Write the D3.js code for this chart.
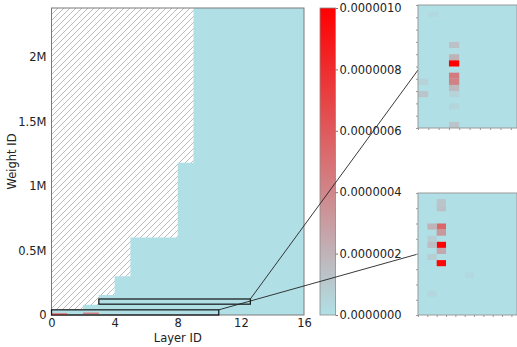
<!DOCTYPE html>
<html>
<head>
<meta charset="utf-8">
<script src="https://cdn.jsdelivr.net/npm/d3@7"></script>
<style>
  body { margin: 0; background: #fff; }
  svg { display: block; font-family: "DejaVu Sans", sans-serif; }
</style>
</head>
<body>
<svg id="chart" width="517" height="347"></svg>
<script>
// ---- data ----
const layerIds = d3.range(16);
// number of weights in each layer
const layerSizes = [40000, 45000, 80000, 155000, 300000, 600000, 600000, 600000,
                    1180000, 2380000, 2380000, 2380000, 2380000, 2380000, 2380000, 2380000];
const weightMax = 2380000;
const xTicks = [0, 4, 8, 12, 16];
const yTicks = [0, 500000, 1000000, 1500000, 2000000];
const yTickLabels = ["0", "0.5M", "1M", "1.5M", "2M"];
const colorTicks = [0, 2e-7, 4e-7, 6e-7, 8e-7, 1e-6];

// heat cells visible at full scale: layer, weight range, value
const mainCells = [
  { layer: 0, w0: 6000, w1: 12000, v: 1.0e-6 },
  { layer: 2, w0: 12000, w1: 18000, v: 0.9e-6 }
];

// zoomed regions (layer range, weight range)
const zoomUpper = { x0: 3, x1: 12.6, w0: 84000, w1: 124000 };
const zoomLower = { x0: 0, x1: 10.6, w0: 0, w1: 40000 };

// cells inside the upper zoom
const upperCells = [
  { layer: 4, w0: 120000, w1: 122000, v: 0.03e-6 },
  { layer: 6, w0: 110000, w1: 112000, v: 0.14e-6 },
  { layer: 6, w0: 106000, w1: 108000, v: 0.2e-6 },
  { layer: 6, w0: 104000, w1: 106000, v: 1.0e-6 },
  { layer: 6, w0: 100000, w1: 102000, v: 0.45e-6 },
  { layer: 6, w0: 98000, w1: 100000, v: 0.42e-6 },
  { layer: 6, w0: 96000, w1: 98000, v: 0.17e-6 },
  { layer: 6, w0: 94000, w1: 96000, v: 0.06e-6 },
  { layer: 6, w0: 90000, w1: 92000, v: 0.05e-6 },
  { layer: 6, w0: 84000, w1: 86000, v: 0.12e-6 },
  { layer: 3, w0: 98000, w1: 100000, v: 0.06e-6 },
  { layer: 3, w0: 94000, w1: 96000, v: 0.12e-6 }
];

// cells inside the lower zoom
const lowerCells = [
  { layer: 2, w0: 36000, w1: 38000, v: 0.12e-6 },
  { layer: 2, w0: 34000, w1: 36000, v: 0.14e-6 },
  { layer: 2, w0: 28000, w1: 30000, v: 0.55e-6 },
  { layer: 2, w0: 26000, w1: 28000, v: 0.32e-6 },
  { layer: 2, w0: 22000, w1: 24000, v: 1.0e-6 },
  { layer: 2, w0: 20000, w1: 22000, v: 0.25e-6 },
  { layer: 2, w0: 16000, w1: 18000, v: 0.97e-6 },
  { layer: 1, w0: 28000, w1: 30000, v: 0.2e-6 },
  { layer: 1, w0: 24000, w1: 26000, v: 0.08e-6 },
  { layer: 1, w0: 22000, w1: 24000, v: 0.15e-6 },
  { layer: 1, w0: 18000, w1: 20000, v: 0.08e-6 },
  { layer: 1, w0: 6000, w1: 8000, v: 0.04e-6 },
  { layer: 5, w0: 12000, w1: 14000, v: 0.03e-6 }
];

// ---- layout ----
const svg = d3.select("#chart");
const plot = { left: 51.5, right: 304, top: 8, bottom: 315 };
const cbar = { left: 320, right: 335.5, top: 8, bottom: 315 };
const insetUpper = { left: 418, right: 517, top: 5, bottom: 128 };
const insetLower = { left: 418, right: 517, top: 193, bottom: 315 };
const upperAnchor = [418, 70];
const lowerAnchor = [418, 254];
const fontSize = 11.5;

const color = d3.scaleLinear().domain([0, 1e-6]).range(["#b0e0e6", "#ff0000"])
  .interpolate(d3.interpolateRgb).clamp(true);
const base = color(0);

const x = d3.scaleLinear().domain([0, 16]).range([plot.left, plot.right]);
const y = d3.scaleLinear().domain([0, weightMax]).range([plot.bottom, plot.top]);

const defs = svg.append("defs");
const hatch = defs.append("pattern").attr("id", "hatch")
  .attr("patternUnits", "userSpaceOnUse").attr("width", 6).attr("height", 6);
hatch.append("rect").attr("width", 6).attr("height", 6).attr("fill", "#fff");
hatch.append("path").attr("d", "M-1,1 l2,-2 M0,6 l6,-6 M5,7 l2,-2")
  .attr("stroke", "#a6a6a6").attr("stroke-width", 0.75);

// ---- main panel ----
svg.append("rect")
  .attr("x", plot.left).attr("y", plot.top)
  .attr("width", plot.right - plot.left).attr("height", plot.bottom - plot.top)
  .attr("fill", "url(#hatch)");

const stepData = layerIds.map(i => ({ l: i, s: layerSizes[i] }));
stepData.push({ l: 16, s: layerSizes[15] });
const area = d3.area().curve(d3.curveStepAfter)
  .x(d => x(d.l)).y0(y(0)).y1(d => y(d.s));
svg.append("path").datum(stepData).attr("d", area).attr("fill", base);

svg.append("rect")
  .attr("x", plot.left).attr("y", plot.top)
  .attr("width", plot.right - plot.left).attr("height", plot.bottom - plot.top)
  .attr("fill", "none").attr("stroke", "#7a7a7a").attr("stroke-width", 1);

// axes
const xAxis = svg.append("g").attr("transform", `translate(0,${plot.bottom})`)
  .call(d3.axisBottom(x).tickValues(xTicks).tickSize(0).tickPadding(4));
const yAxis = svg.append("g").attr("transform", `translate(${plot.left},0)`)
  .call(d3.axisLeft(y).tickValues(yTicks).tickFormat((d, i) => yTickLabels[i]).tickSize(0).tickPadding(5));
[xAxis, yAxis].forEach(g => {
  g.select(".domain").remove();
  g.selectAll("text").attr("font-size", fontSize).attr("fill", "#222")
    .attr("font-family", "DejaVu Sans, sans-serif");
});

svg.append("text").attr("x", (plot.left + plot.right) / 2).attr("y", 341.5)
  .attr("text-anchor", "middle").attr("font-size", fontSize).attr("fill", "#222").text("Layer ID");
svg.append("text")
  .attr("transform", `translate(15.5,${(plot.top + plot.bottom) / 2}) rotate(-90)`)
  .attr("text-anchor", "middle").attr("font-size", fontSize).attr("fill", "#222").text("Weight ID");

// zoom rectangles
function zoomRect(z) {
  svg.append("rect")
    .attr("x", x(z.x0)).attr("y", y(z.w1))
    .attr("width", x(z.x1) - x(z.x0)).attr("height", y(z.w0) - y(z.w1))
    .attr("fill", "none").attr("stroke", "#111").attr("stroke-width", 1.2);
}
zoomRect(zoomUpper);
zoomRect(zoomLower);

svg.append("g").selectAll("rect").data(mainCells).join("rect")
  .attr("x", d => x(d.layer)).attr("width", d => x(d.layer + 1) - x(d.layer))
  .attr("y", d => y(d.w1)).attr("height", d => Math.max(1, y(d.w0) - y(d.w1)))
  .attr("fill", d => color(d.v)).attr("opacity", 0.7);

// ---- colorbar ----
const cy = d3.scaleLinear().domain([0, 1e-6]).range([cbar.bottom, cbar.top]);
const grad = defs.append("linearGradient").attr("id", "cgrad")
  .attr("x1", 0).attr("y1", 1).attr("x2", 0).attr("y2", 0);
d3.range(0, 1.0001, 0.1).forEach(t => {
  grad.append("stop").attr("offset", t).attr("stop-color", color(t * 1e-6));
});
svg.append("rect").attr("x", cbar.left).attr("y", cbar.top)
  .attr("width", cbar.right - cbar.left).attr("height", cbar.bottom - cbar.top)
  .attr("fill", "url(#cgrad)").attr("stroke", "#8a8a8a").attr("stroke-width", 0.8);
const cAxis = svg.append("g").attr("transform", `translate(${cbar.right},0)`)
  .call(d3.axisRight(cy).tickValues(colorTicks).tickFormat(d => d.toFixed(7)).tickSize(2.5).tickPadding(1.5));
cAxis.select(".domain").remove();
cAxis.selectAll("line").attr("stroke", "#777");
cAxis.selectAll("text").attr("font-size", fontSize).attr("fill", "#222")
  .attr("font-family", "DejaVu Sans, sans-serif");

// ---- connectors ----
svg.append("line")
  .attr("x1", x(zoomUpper.x1)).attr("y1", y(zoomUpper.w1))
  .attr("x2", upperAnchor[0]).attr("y2", upperAnchor[1])
  .attr("stroke", "#222").attr("stroke-width", 0.9);
svg.append("line")
  .attr("x1", x(zoomLower.x1)).attr("y1", y(zoomLower.w1))
  .attr("x2", lowerAnchor[0]).attr("y2", lowerAnchor[1])
  .attr("stroke", "#222").attr("stroke-width", 0.9);

// ---- insets ----
function drawInset(box, z, cells, yStep) {
  const ix = d3.scaleLinear().domain([z.x0, z.x1]).range([box.left, box.right]);
  const iy = d3.scaleLinear().domain([z.w0, z.w1]).range([box.bottom, box.top]);
  const g = svg.append("g");
  const clipId = "clip" + box.top;
  defs.append("clipPath").attr("id", clipId).append("rect")
    .attr("x", box.left).attr("y", box.top)
    .attr("width", box.right - box.left).attr("height", box.bottom - box.top);
  g.append("rect").attr("x", box.left).attr("y", box.top)
    .attr("width", box.right - box.left).attr("height", box.bottom - box.top)
    .attr("fill", base);
  g.append("g").attr("clip-path", `url(#${clipId})`)
    .selectAll("rect").data(cells).join("rect")
    .attr("x", d => ix(d.layer)).attr("width", d => ix(d.layer + 1) - ix(d.layer))
    .attr("y", d => iy(d.w1)).attr("height", d => iy(d.w0) - iy(d.w1))
    .attr("fill", d => color(d.v));
  const bx = g.append("g").attr("transform", `translate(0,${box.bottom})`)
    .call(d3.axisBottom(ix).tickValues(d3.range(Math.ceil(z.x0), z.x1, 1)).tickSize(2).tickFormat(""));
  const by = g.append("g").attr("transform", `translate(${box.left},0)`)
    .call(d3.axisLeft(iy).tickValues(d3.range(z.w0, z.w1 + 1, yStep)).tickSize(2).tickFormat(""));
  [bx, by].forEach(a => { a.select(".domain").remove(); a.selectAll("line").attr("stroke", "#999"); });
  g.append("rect").attr("x", box.left).attr("y", box.top)
    .attr("width", box.right - box.left).attr("height", box.bottom - box.top)
    .attr("fill", "none").attr("stroke", "#9a9a9a").attr("stroke-width", 1);
}
drawInset(insetUpper, zoomUpper, upperCells, 4000);
drawInset(insetLower, zoomLower, lowerCells, 5000);
</script>
</body>
</html>
